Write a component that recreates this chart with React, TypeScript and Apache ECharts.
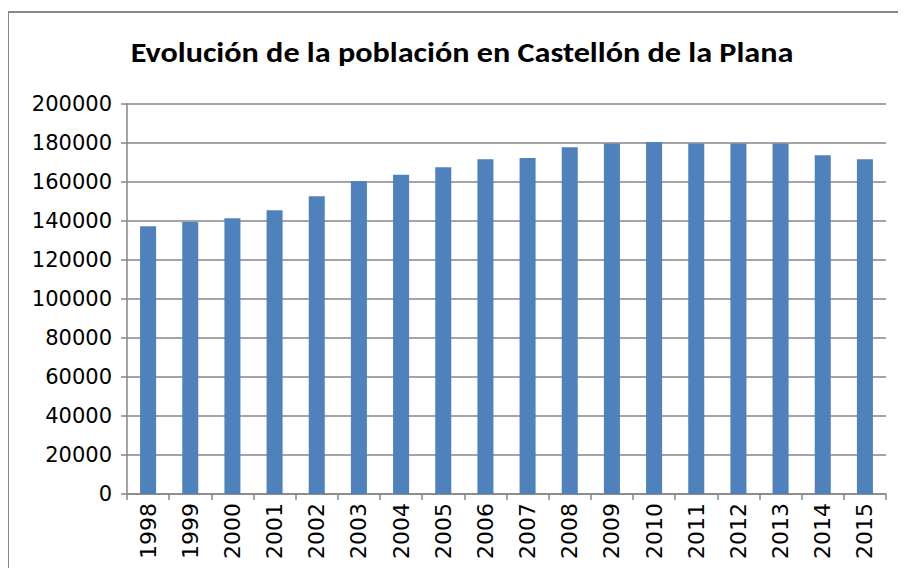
import React, { useEffect, useRef } from "react";
import * as echarts from "echarts";

const years = ["1998","1999","2000","2001","2002","2003","2004","2005","2006","2007","2008","2009","2010","2011","2012","2013","2014","2015"];
const population = [137300,139500,141400,145500,152700,160500,163700,167600,171700,172300,177800,179800,180500,179800,179800,179800,173700,171700];

export default function App() {
  const ref = useRef<HTMLDivElement>(null);
  useEffect(() => {
    const chart = echarts.init(ref.current!, null, { renderer: "svg" });
    chart.setOption({
      animation: false,
      backgroundColor: "#ffffff",
      graphic: [
        { type: "line", shape: { x1: 8, y1: 12, x2: 906, y2: 12 }, style: { stroke: "#878787", lineWidth: 2 } },
        { type: "line", shape: { x1: 8, y1: 12, x2: 8, y2: 576 }, style: { stroke: "#878787", lineWidth: 2 } },
        {
          type: "text",
          x: 462,
          y: 52,
          scaleX: 1.11,
          style: {
            text: "Evolución de la población en Castellón de la Plana",
            fontFamily: "Carlito, 'Liberation Sans Narrow', Lato, sans-serif",
            fontWeight: "bold",
            fontSize: 29,
            fill: "#000",
            align: "center",
            verticalAlign: "middle",
          },
        },
      ],
      grid: { left: 127, right: 20, top: 104, bottom: 82, containLabel: false },
      xAxis: {
        type: "category",
        data: years,
        axisLine: { lineStyle: { color: "#868686", width: 1.5 } },
        axisTick: { show: true, alignWithLabel: false, length: 6, lineStyle: { color: "#868686", width: 1.5 } },
        axisLabel: { rotate: 90, color: "#000", fontSize: 22, fontFamily: "'DejaVu Sans', sans-serif", margin: 9, interval: 0 },
      },
      yAxis: {
        type: "value",
        min: 0,
        max: 200000,
        interval: 20000,
        axisLine: { show: true, lineStyle: { color: "#868686", width: 1.5 } },
        axisTick: { show: true, length: 6, lineStyle: { color: "#868686", width: 1.5 } },
        splitLine: { lineStyle: { color: "#868686", width: 1.5 } },
        axisLabel: { color: "#000", fontSize: 21, fontFamily: "'DejaVu Sans', sans-serif", margin: 15, formatter: (v: number) => String(v) },
      },
      series: [
        {
          type: "bar",
          data: population,
          barWidth: "38%",
          itemStyle: { color: "#4f81bd" },
        },
      ],
    });
    return () => chart.dispose();
  }, []);
  return <div ref={ref} style={{ width: 906, height: 576, margin: -8 }} />;
}
